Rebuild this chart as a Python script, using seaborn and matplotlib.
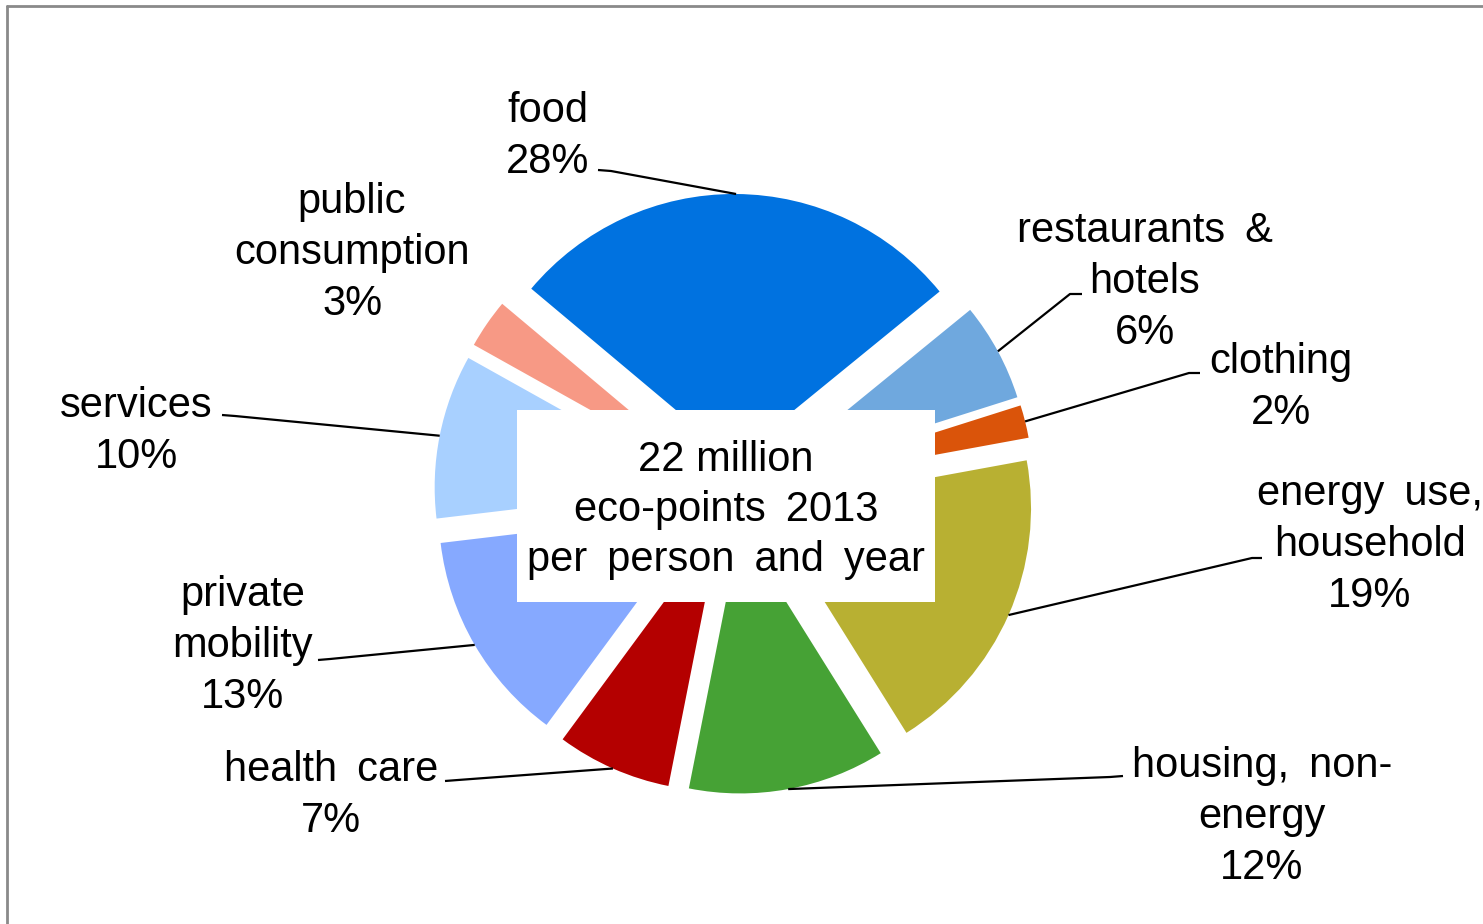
import matplotlib
matplotlib.use("Agg")
import matplotlib.pyplot as plt
from matplotlib.lines import Line2D
from matplotlib.patches import Rectangle
import numpy as np
import seaborn as sns

# Environmental impact per person, share of total eco-points by consumption area
categories = ["food", "restaurants & hotels", "clothing", "energy use, household",
              "housing, non-energy", "health care", "private mobility", "services",
              "public consumption"]
shares = [28, 6, 2, 19, 12, 7, 13, 10, 3]
slice_colors = ["#0072E0", "#6FA8DE", "#DA540A", "#B8B032", "#46A235",
                "#B40000", "#86A9FF", "#A8D0FF", "#F79985"]
# how each category name is broken over lines in its label
label_lines = [["food"], ["restaurants &", "hotels"], ["clothing"],
               ["energy use,", "household"], ["housing, non-", "energy"],
               ["health care"], ["private", "mobility"], ["services"],
               ["public", "consumption"]]
center_lines = ["22 million", "eco-points 2013", "per person and year"]

W, H = 1483, 924
FS = 30
STEP = 51
WIDE = " \u2009"


def wide(s):
    return s.replace(" ", WIDE)


# label placement: centre x, first baseline, leader elbow, leader stub end (top-down px)
label_layout = [
    (548, 122, (611, 171), (598, 170)),
    (1145, 242, (1070, 294), (1082, 294)),
    (1281, 373, (1189, 373), (1200, 373)),
    (1370, 505, (1252, 558), (1262, 558)),
    (1262, 777, (1110, 777), (1123, 776)),
    (331, 781, (458, 780), (445, 781)),
    (243, 606, (330, 659), (318, 660)),
    (136, 417, (235, 416), (222, 415)),
    (352, 213, None, None),
]

sns.set_theme(style="white")
plt.rcParams["font.family"] = ["Liberation Sans", "DejaVu Sans"]

fig = plt.figure(figsize=(W / 100, H / 100), dpi=100)
fig.patch.set_facecolor("white")
ax = fig.add_axes([0, 0, 1, 1])

pal = sns.color_palette(slice_colors)
wedges, _ = ax.pie(shares, colors=pal, startangle=140, counterclock=False,
                   center=(734, H - 494), radius=265,
                   explode=[35] * len(shares),
                   wedgeprops=dict(linewidth=0))
ax.set_xlim(0, W)
ax.set_ylim(0, H)
ax.set_aspect("equal")
ax.axis("off")


def ty(y):
    return H - y


# category labels with leader lines to the middle of each slice's rim
for w, lines, val, (lx, lb, elbow, stub) in zip(wedges, label_lines, shares, label_layout):
    text_lines = [wide(s) for s in lines] + [f"{val}%"]
    for i, s in enumerate(text_lines):
        ax.text(lx, ty(lb + i * STEP), s, ha="center", va="baseline",
                fontsize=FS, color="black", zorder=5)
    if elbow is None:
        continue
    mid = np.deg2rad((w.theta1 + w.theta2) / 2)
    cx, cy = w.center
    px, py = cx + w.r * np.cos(mid), cy + w.r * np.sin(mid)
    ax.plot([px, elbow[0], stub[0]], [py, ty(elbow[1]), ty(stub[1])],
            color="black", lw=1.6, solid_capstyle="butt", zorder=4)

# total in a white box over the centre of the pie
ax.add_patch(Rectangle((517, ty(602)), 418, 192, facecolor="white",
                       edgecolor="none", zorder=3))
for i, s in enumerate(center_lines):
    s = s if i == 0 else wide(s)
    ax.text(726, ty(471 + i * 50), s, ha="center", va="baseline",
            fontsize=FS, color="black", zorder=5)

# chart area frame
fig.add_artist(Line2D([7 / W, 7 / W], [0, (H - 6) / H], transform=fig.transFigure,
                      color="#8a8a8a", lw=2))
fig.add_artist(Line2D([7 / W, 1], [(H - 6) / H, (H - 6) / H], transform=fig.transFigure,
                      color="#8a8a8a", lw=2))

fig.savefig("out.png", dpi=100, facecolor="white")
